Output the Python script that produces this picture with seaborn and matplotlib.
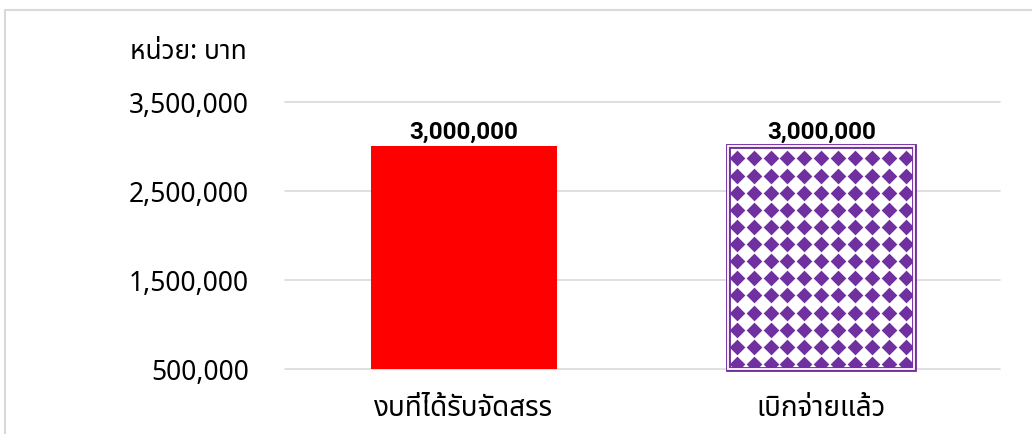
import matplotlib
matplotlib.use("Agg")
import matplotlib.pyplot as plt
import matplotlib.patheffects as pe
from matplotlib.patches import Rectangle
import numpy as np
import pandas as pd
import seaborn as sns

categories = ["งบที่ได้รับจัดสรร", "เบิกจ่ายแล้ว"]
amounts = [3000000, 3000000]
bar_colors = ["#ff0000", "#7030a0"]
y_ticks = [500000, 1500000, 2500000, 3500000]
unit_label = "หน่วย: บาท"

sns.set_theme(style="white")
plt.rcParams["font.family"] = ["Noto Sans Thai", "Noto Sans", "DejaVu Sans"]
plt.rcParams["text.color"] = "black"
plt.rcParams["xtick.color"] = "black"
plt.rcParams["ytick.color"] = "black"

df = pd.DataFrame({"category": categories, "amount": amounts})

fig = plt.figure(figsize=(10.32, 4.35), dpi=100)
ax = fig.add_axes([285 / 1032, 65 / 435, 715 / 1032, 267 / 435])

sns.barplot(data=df, x="category", y="amount", hue="category",
            palette=bar_colors, width=0.52, legend=False, ax=ax,
            linewidth=0, saturation=1)

base = y_ticks[0]
patches = [c.patches[0] for c in ax.containers]
for p, v in zip(patches, amounts):
    p.set_y(base)
    p.set_height(v - base)

# patterned second bar (purple diamonds on white, double outline)
purple = bar_colors[1]
p = patches[1]
p.set_facecolor("white")
x0, w, y0, h = p.get_x(), p.get_width(), p.get_y(), p.get_height()
nx, ny = 11, 13
xs = x0 + (np.arange(nx) + 0.5) * w / nx
ys = y0 + (np.arange(ny) + 0.3) * h / ny
gx, gy = np.meshgrid(xs, ys)
dots = ax.scatter(gx.ravel(), gy.ravel(), marker="D", s=64, color=purple,
                  linewidths=0, zorder=3)
dots.set_clip_path(p)
ax.add_patch(Rectangle((x0, y0), w, h, fill=False, edgecolor=purple, lw=1,
                       zorder=4, clip_on=False,
                       path_effects=[pe.Stroke(linewidth=3.5, foreground=purple),
                                     pe.Stroke(linewidth=1.3, foreground="white")]))

ax.set_xlim(-0.5, len(categories) - 0.5)
ax.set_ylim(y_ticks[0], y_ticks[-1])

for c, v in zip(ax.containers, amounts):
    ax.bar_label(c, labels=[f"{v:,.0f}"], fontsize=17.5, fontweight="bold",
                 family=["Roboto", "Liberation Sans", "DejaVu Sans"], padding=3)

ax.set_yticks(y_ticks)
ax.set_yticklabels([f"{v:,.0f}" for v in y_ticks], fontsize=19)
ax.tick_params(axis="y", length=0, pad=26)
ax.tick_params(axis="x", length=0, pad=18, labelsize=20)
ax.set_xlabel("")
ax.set_ylabel("")
ax.yaxis.grid(True, color="#d9d9d9", linewidth=1.2)
for gl in ax.get_ygridlines():
    gl.set_clip_on(False)
ax.set_axisbelow(True)
for s in ax.spines.values():
    s.set_visible(False)

fig.text(130 / 1032, 1 - 52 / 435, unit_label, fontsize=19, va="center", ha="left")

fig.add_artist(Rectangle((5 / 1032, -0.05), 1.1, 1 - 11 / 435 + 0.05,
                         transform=fig.transFigure, fill=False,
                         edgecolor="#d9d9d9", lw=1.5))

fig.savefig("out.png", dpi=100)
